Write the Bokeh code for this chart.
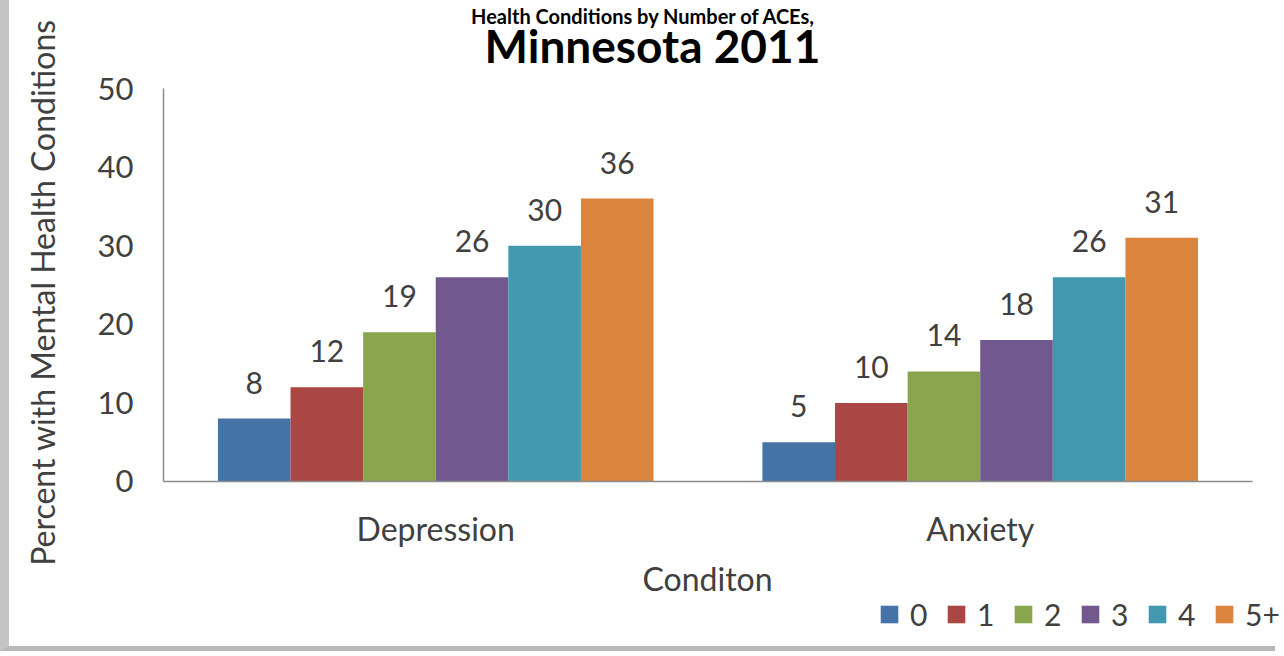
import math
from bokeh.plotting import figure
from bokeh.models import (ColumnDataSource, Range1d, Legend, LegendItem, Label,
                          FixedTicker)
from bokeh.core.properties import value
from bokeh.embed import file_html
from bokeh.resources import INLINE

# ---- data ----
conditions = ["Depression", "Anxiety"]
ace_groups = ["0", "1", "2", "3", "4", "5+"]
depression = [8, 12, 19, 26, 30, 36]
anxiety = [5, 10, 14, 18, 26, 31]
colors = ["#4572A7", "#AA4643", "#89A54E", "#71588F", "#4198AF", "#DB843D"]
title_line1 = "Health Conditions by Number of ACEs,"
title_line2 = "Minnesota 2011"
y_title = "Percent with Mental Health Conditions"
x_title = "Conditon"
y_ticks = [0, 10, 20, 30, 40, 50]

FONT = "Lato"
TXT = "#404040"
W, H = 1275, 651          # canvas (page minus css border)

# frame covers whole canvas; axes are pinned at 0 with bounds
p = figure(width=W, height=H, x_range=Range1d(-0.2828, 2.0588),
           y_range=Range1d(-21.63, 61.2), output_backend="svg",
           toolbar_location=None, min_border=0, title=None)
p.styles = {"border-left": "9px solid #c4c4c4", "border-bottom": "5px solid #b8b8b8"}
p.background_fill_color = "white"
p.border_fill_color = "white"
p.outline_line_color = None
p.xgrid.grid_line_color = None
p.ygrid.grid_line_color = None

centers = [i + 0.5 for i in range(len(conditions))]
n = len(ace_groups)
bw = 0.8 / n
items = []
for i, g in enumerate(ace_groups):
    off = -0.4 + bw * (i + 0.5)
    src = ColumnDataSource(dict(x=[c + off for c in centers],
                                val=[depression[i], anxiety[i]],
                                lab=[str(depression[i]), str(anxiety[i])]))
    r = p.vbar(x="x", top="val", width=bw, source=src,
               fill_color=colors[i], line_color=None)
    p.text(x="x", y="val", text="lab", source=src,
           text_align="center", text_baseline="alphabetic", y_offset=-36,
           text_font=value(FONT), text_font_size="30px", text_color=TXT)
    items.append(LegendItem(label=g, renderers=[r]))

# axes
xa, ya = p.xaxis[0], p.yaxis[0]
xa.fixed_location = 0
ya.fixed_location = 0
xa.bounds = (0, len(conditions))
ya.bounds = (0, 50)
xa.ticker = FixedTicker(ticks=centers)
xa.major_label_overrides = {c: name for c, name in zip(centers, conditions)}
ya.ticker = FixedTicker(ticks=y_ticks)
for ax in (xa, ya):
    ax.axis_line_color = "#8c8c8c"
    ax.axis_line_width = 1.5
    ax.major_tick_line_color = None
    ax.minor_tick_line_color = None
    ax.major_tick_out = 0
    ax.major_tick_in = 0
    ax.major_label_text_font = FONT
    ax.major_label_text_color = TXT
ya.major_label_text_font_size = "31px"
xa.major_label_text_font_size = "32px"
ya.major_label_standoff = 30
xa.major_label_standoff = 28

def lab(text, x, y, size, bold=False, angle=0, color=TXT, baseline="middle"):
    p.add_layout(Label(x=x, y=y, x_units="screen", y_units="screen", text=text,
                       angle=angle, text_align="center", text_baseline=baseline,
                       text_font=FONT, text_font_size=size,
                       text_font_style="bold" if bold else "normal",
                       text_color=color))

lab(title_line1, 634, H - 15, "20px", bold=True, color="#000000", baseline="middle")
lab(title_line2, 643, H - 45, "46px", bold=True, color="#000000", baseline="alphabetic")
lab(y_title, 33, H - 292, "32px", angle=math.pi / 2)
lab(x_title, 698, H - 578, "32px")

legend = Legend(items=items, orientation="horizontal", location=(869, 19),
                glyph_width=22, glyph_height=22, label_standoff=10, spacing=17,
                label_width=18, padding=0, margin=0, border_line_color=None,
                background_fill_alpha=0, label_text_font=FONT,
                label_text_font_size="30px", label_text_color=TXT)
p.add_layout(legend, "center")

open("out.html", "w").write(file_html(p, INLINE))
